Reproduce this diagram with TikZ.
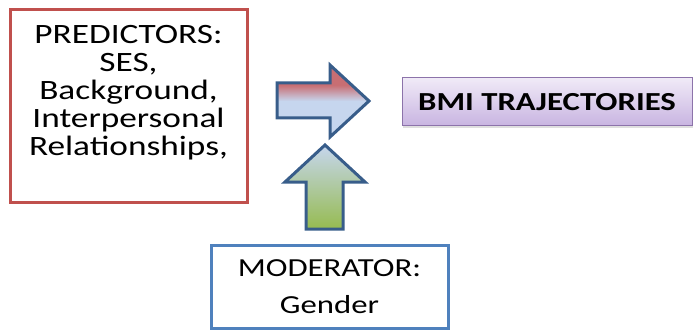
\documentclass[tikz,border=0pt]{standalone}
\usepackage{fontspec}
\setmainfont{Carlito}[FakeStretch=1.26]
\usetikzlibrary{positioning,shadows}
\definecolor{predred}{RGB}{192,80,77}
\definecolor{modblue}{RGB}{79,129,189}
\definecolor{arrline}{RGB}{56,93,138}
\definecolor{arrred}{RGB}{200,110,115}
\definecolor{arrblue}{RGB}{198,214,238}
\definecolor{arrgreen}{RGB}{150,187,80}
\definecolor{bmitop}{RGB}{240,234,247}
\definecolor{bmibot}{RGB}{200,180,225}
\definecolor{bmiline}{RGB}{140,115,170}
\pgfdeclareverticalshading{redfade}{100bp}{color(0bp)=(arrblue); color(50bp)=(arrblue);
  color(61bp)=(arrred); color(100bp)=(arrred)}
\begin{document}
\begin{tikzpicture}[x=1pt,y=1pt,
  box/.style={draw,line width=3pt,minimum width=237pt,inner sep=0pt},
  blockarrow/.style={draw=arrline,line width=3pt,line join=miter}]
\useasboundingbox (0,0) rectangle (694,330);
% predictors
\node[box,draw=predred,minimum height=192pt] (pred) at (128.5,224) {};
\node[align=center,inner sep=0pt,font=\fontsize{28}{28}\selectfont,below=17pt of pred.north] (predtext)
  {PREDICTORS:\\SES,\\Background,\\Interpersonal\\Relationships,};
% outcome
\node[draw=bmiline,line width=1pt,top color=bmitop,bottom color=bmibot,
  minimum width=290pt,minimum height=48pt,font=\bfseries\fontsize{26}{30}\selectfont,
  drop shadow={shadow xshift=1pt,shadow yshift=-2pt,opacity=0.25}] (bmi) at (547,228) {BMI TRAJECTORIES};
% moderator
\node[box,draw=modblue,minimum height=83pt,align=center,font=\fontsize{26}{37}\selectfont] (mod) at (329.5,43.5)
  {MODERATOR:\\Gender};
% block arrows
\draw[blockarrow,shading=redfade]
  (277,247) -- (330,247) -- (330,265) -- (369,229) -- (330,193) -- (330,212) -- (277,212) -- cycle;
\draw[blockarrow,top color=arrblue,middle color=arrblue,bottom color=arrgreen]
  (306,101) -- (306,148) -- (285,148) -- (325,185) -- (365,148) -- (343,148) -- (343,101) -- cycle;
\end{tikzpicture}
\end{document}
